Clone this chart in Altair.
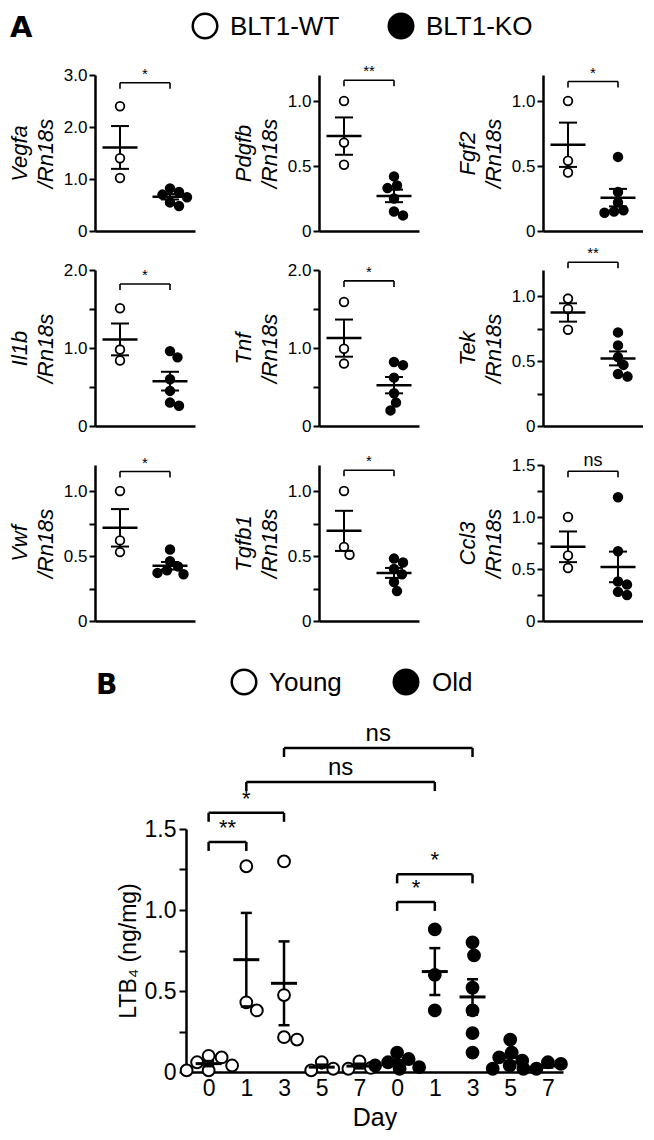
import math
import altair as alt
import pandas as pd

FONT = "Liberation Sans"

# ---------------- Panel A data ----------------
genes = ["Vegfa", "Pdgfb", "Fgf2", "Il1b", "Tnf", "Tek", "Vwf", "Tgfb1", "Ccl3"]
groups_a = ["BLT1-WT", "BLT1-KO"]
wt_values = [
    [2.40, 1.40, 1.02],
    [1.00, 0.68, 0.51],
    [1.00, 0.54, 0.45],
    [1.51, 0.98, 0.84],
    [1.59, 0.99, 0.80],
    [0.98, 0.90, 0.74],
    [1.00, 0.62, 0.53],
    [1.00, 0.57, 0.51],
    [1.00, 0.63, 0.51],
]
ko_values = [
    [0.82, 0.75, 0.70, 0.65, 0.55, 0.48],
    [0.42, 0.35, 0.33, 0.25, 0.15, 0.12],
    [0.57, 0.30, 0.22, 0.15, 0.14, 0.16],
    [0.96, 0.88, 0.60, 0.45, 0.30, 0.26],
    [0.82, 0.78, 0.62, 0.42, 0.30, 0.20],
    [0.72, 0.62, 0.53, 0.47, 0.40, 0.38],
    [0.55, 0.46, 0.42, 0.39, 0.37, 0.36],
    [0.48, 0.45, 0.40, 0.36, 0.30, 0.23],
    [1.19, 0.67, 0.38, 0.35, 0.28, 0.25],
]
y_max_a = [3.0, 1.2, 1.2, 2.0, 2.0, 1.2, 1.2, 1.2, 1.5]
tick_step_a = [1.0, 0.5, 0.5, 0.5, 0.5, 0.25, 0.25, 0.25, 0.25]
label_step_a = [1.0, 0.5, 0.5, 1.0, 1.0, 0.5, 0.5, 0.5, 0.5]
sig_a = ["*", "**", "*", "*", "*", "**", "*", "*", "ns"]
bracket_level_a = [2.85, 1.16, 1.15, 1.82, 1.86, 1.26, 1.15, 1.16, 1.44]

# ---------------- Panel B data ----------------
days = ["0", "1", "3", "5", "7"]
groups_b = ["Young", "Old"]
young_values = [
    [0.04, 0.09, 0.10, 0.06, 0.01, 0.01],
    [1.27, 0.38, 0.43],
    [1.30, 0.475, 0.20, 0.215],
    [0.06, 0.01, 0.02],
    [0.065, 0.02, 0.025],
]
old_values = [
    [0.12, 0.08, 0.06, 0.04, 0.03, 0.02],
    [0.88, 0.60, 0.38],
    [0.80, 0.72, 0.52, 0.38, 0.24, 0.12],
    [0.20, 0.12, 0.09, 0.07, 0.04, 0.02],
    [0.06, 0.05, 0.02, 0.02],
]
bracket_b_from = [0, 0, 1, 2, 5, 5]
bracket_b_to = [1, 2, 6, 7, 6, 7]
bracket_b_level = [1.42, 1.60, 1.79, 2.00, 1.05, 1.22]
bracket_b_label = ["**", "*", "ns", "ns", "*", "*"]

# ---------------- layout constants ----------------
W_A, H_A, GAP_X, GAP_Y = 100, 156, 124, 39
W_B, H_B = 377, 243
B_SHIFT = 91
GAP_AB = 35


def swarm_offsets(vals, ppu_y, diam):
    order = sorted(range(len(vals)), key=lambda i: -vals[i])
    placed = []
    offs = [0.0] * len(vals)
    for i in order:
        yp = vals[i] * ppu_y
        k = 0
        found = None
        while found is None:
            cands = [0.0] if k == 0 else [k * 0.5, -k * 0.5]
            for c in cands:
                if all((c - px) ** 2 + (yp - py) ** 2 >= diam ** 2 for px, py in placed):
                    found = c
                    break
            k += 1
        offs[i] = found
        placed.append((found, yp))
    return offs


def mean_sem(vals):
    n = len(vals)
    m = sum(vals) / n
    sd = math.sqrt(sum((v - m) ** 2 for v in vals) / (n - 1))
    return m, sd / math.sqrt(n)


def legend_entry(label, fill, cx, cy, tx):
    d = pd.DataFrame({"g": [label]})
    sym = alt.Chart(d).mark_point(filled=True, shape="circle", size=600, fill=fill,
                                  stroke="black", strokeWidth=2.5, opacity=1).encode(
        x=alt.value(cx), y=alt.value(cy))
    txt = alt.Chart(d).mark_text(font=FONT, fontSize=26, align="left", baseline="middle",
                                 color="black").encode(
        text="g:N", x=alt.value(tx), y=alt.value(cy + 1))
    return [sym, txt]


def panel_a(i):
    ymax = y_max_a[i]
    ppu = H_A / ymax
    ppx = W_A / 4.0
    pts, stats, caps = [], [], []
    for grp, vals, xc in ((groups_a[0], wt_values[i], 1.0), (groups_a[1], ko_values[i], 3.0)):
        offs = swarm_offsets(vals, ppu, 9.5)
        for v, o in zip(vals, offs):
            pts.append({"x": xc + o / ppx, "y": v, "group": grp})
        m, s = mean_sem(vals)
        stats.append({"x": xc, "mean": m, "lo": m - s, "hi": m + s})
        caps += [{"x": xc, "y": m - s}, {"x": xc, "y": m + s}]
    pts = pd.DataFrame(pts)
    stats = pd.DataFrame(stats)
    caps = pd.DataFrame(caps)
    lvl = bracket_level_a[i]
    br = pd.DataFrame([{"x1": 1.0, "x2": 3.0, "xm": 2.0, "level": lvl,
                        "low": lvl - 6.0 / ppu, "label": sig_a[i],
                        "fs": 18 if sig_a[i] == "ns" else 15}])

    step = tick_step_a[i]
    ls = label_step_a[i]
    nt = int(math.floor(ymax / step + 1e-9))
    tvals = [round(k * step, 4) for k in range(nt + 1)]
    lexpr = ("datum.value == 0 ? '0' : (abs(datum.value / %s - round(datum.value / %s)) < 0.001 ? "
             "format(datum.value, '.1f') : '')" % (ls, ls))
    yaxis = alt.Axis(values=tvals, labelExpr=lexpr, title=[genes[i], "/Rn18s"],
                     titleFont=FONT, titleFontSize=22, titleFontStyle="italic",
                     titleFontWeight="normal", titleColor="black", titleLineHeight=26,
                     titlePadding=6, labelFont=FONT, labelFontSize=17, labelColor="black",
                     labelPadding=2, tickSize=6, tickWidth=2, tickColor="black",
                     domainWidth=2.5, domainColor="black", grid=False)
    xaxis = alt.Axis(labels=False, ticks=False, title=None, grid=False,
                     domainWidth=2.5, domainColor="black")
    ysc = alt.Scale(domain=[0, ymax], nice=False, zero=True)
    xsc = alt.Scale(domain=[0, 4], nice=False, zero=False)

    def X(f):
        return alt.X(f + ":Q", scale=xsc, axis=xaxis)

    def Y(f):
        return alt.Y(f + ":Q", scale=ysc, axis=yaxis)

    sem_rule = alt.Chart(stats).mark_rule(color="black", strokeWidth=2).encode(
        x=X("x"), y=Y("lo"), y2="hi:Q")
    points = alt.Chart(pts).mark_point(filled=True, shape="circle", size=75, stroke="black",
                                       strokeWidth=1.8, opacity=1).encode(
        x=X("x"), y=Y("y"),
        fill=alt.Fill("group:N", scale=alt.Scale(domain=groups_a, range=["white", "black"]),
                      legend=None))
    mean_tick = alt.Chart(stats).mark_tick(orient="horizontal", size=35, thickness=2.5,
                                           color="black", opacity=1).encode(x=X("x"), y=Y("mean"))
    cap_tick = alt.Chart(caps).mark_tick(orient="horizontal", size=18, thickness=2,
                                         color="black", opacity=1).encode(x=X("x"), y=Y("y"))
    bh = alt.Chart(br).mark_rule(color="black", strokeWidth=1.6).encode(
        x=X("x1"), x2="x2:Q", y=Y("level"))
    bl = alt.Chart(br).mark_rule(color="black", strokeWidth=1.6).encode(
        x=X("x1"), y=Y("low"), y2="level:Q")
    brr = alt.Chart(br).mark_rule(color="black", strokeWidth=1.6).encode(
        x=X("x2"), y=Y("low"), y2="level:Q")
    bt = alt.Chart(br).mark_text(font=FONT, baseline="bottom", dy=-1, color="black").encode(
        x=X("xm"), y=Y("level"), text="label:N", size=alt.Size("fs:Q", scale=None, legend=None))
    layers = [sem_rule, points, mean_tick, cap_tick, bh, bl, brr, bt]
    if i == 0:
        lab = alt.Chart(pd.DataFrame({"t": ["A"]})).mark_text(
            font="DejaVu Sans", fontSize=29, fontWeight="bold", align="left",
            baseline="alphabetic", color="black").encode(
            text="t:N", x=alt.value(-85), y=alt.value(-38))
        layers.append(lab)
        layers += legend_entry(groups_a[0], "white", 110, -49, 135)
        layers += legend_entry(groups_a[1], "black", 306, -49, 331)
    return alt.layer(*layers).properties(width=W_A, height=H_A)


def panel_b():
    ppu = H_B / 1.5
    ppx = W_B / 10.0
    pts, stats, caps = [], [], []
    for gi, (grp, series) in enumerate(((groups_b[0], young_values), (groups_b[1], old_values))):
        for di, vals in enumerate(series):
            xc = gi * 5 + di
            offs = swarm_offsets(vals, ppu, 13.0)
            for v, o in zip(vals, offs):
                pts.append({"x": xc + o / ppx, "y": v, "group": grp})
            m, s = mean_sem(vals)
            stats.append({"x": xc, "mean": m, "lo": max(m - s, 0), "hi": m + s})
            caps += [{"x": xc, "y": m - s}, {"x": xc, "y": m + s}]
    pts = pd.DataFrame(pts)
    stats = pd.DataFrame(stats)
    caps = pd.DataFrame(caps)
    caps = caps[caps["y"] > 0.02]
    br = pd.DataFrame({
        "x1": bracket_b_from, "x2": bracket_b_to,
        "xm": [(a + b) / 2 for a, b in zip(bracket_b_from, bracket_b_to)],
        "level": bracket_b_level,
        "low": [l - 9.0 / ppu for l in bracket_b_level],
        "label": bracket_b_label,
        "fs": [24 if t == "ns" else 22 for t in bracket_b_label],
    })
    ysc = alt.Scale(domain=[0, 1.5], nice=False, zero=True)
    xsc = alt.Scale(domain=[-0.6, 9.4], nice=False, zero=False)
    lexpr = ("datum.value == 0 ? '0' : (abs(datum.value / 0.5 - round(datum.value / 0.5)) < 0.001 ? "
             "format(datum.value, '.1f') : '')")
    yaxis = alt.Axis(values=[0, 0.25, 0.5, 0.75, 1.0, 1.25, 1.5], labelExpr=lexpr,
                     title="LTB\u2084 (ng/mg)", titleFont=FONT, titleFontSize=23,
                     titleFontWeight="normal", titleColor="black", titlePadding=4,
                     labelFont=FONT, labelFontSize=23, labelColor="black", labelPadding=3,
                     tickSize=7, tickWidth=2, tickColor="black",
                     domainWidth=2.5, domainColor="black", grid=False)
    xaxis = alt.Axis(values=list(range(10)),
                     labelExpr="['0','1','3','5','7'][datum.value % 5]",
                     ticks=False, grid=False, domainWidth=2.5, domainColor="black",
                     labelFont=FONT, labelFontSize=23, labelColor="black", labelPadding=5,
                     title="Day", titleFont=FONT, titleFontSize=25, titleFontWeight="normal",
                     titleColor="black", titlePadding=5)

    def X(f):
        return alt.X(f + ":Q", scale=xsc, axis=xaxis)

    def Y(f):
        return alt.Y(f + ":Q", scale=ysc, axis=yaxis)

    sem_rule = alt.Chart(stats).mark_rule(color="black", strokeWidth=2.5).encode(
        x=X("x"), y=Y("lo"), y2="hi:Q")
    points = alt.Chart(pts).mark_point(filled=True, shape="circle", size=140, stroke="black",
                                       strokeWidth=2, opacity=1).encode(
        x=X("x"), y=Y("y"),
        fill=alt.Fill("group:N", scale=alt.Scale(domain=groups_b, range=["white", "black"]),
                      legend=None))
    mean_tick = alt.Chart(stats).mark_tick(orient="horizontal", size=26, thickness=3,
                                           color="black", opacity=1).encode(x=X("x"), y=Y("mean"))
    cap_tick = alt.Chart(caps).mark_tick(orient="horizontal", size=11, thickness=2.5,
                                         color="black", opacity=1).encode(x=X("x"), y=Y("y"))
    bh = alt.Chart(br).mark_rule(color="black", strokeWidth=2.5).encode(
        x=X("x1"), x2="x2:Q", y=Y("level"))
    bl = alt.Chart(br).mark_rule(color="black", strokeWidth=2.5).encode(
        x=X("x1"), y=Y("low"), y2="level:Q")
    brr = alt.Chart(br).mark_rule(color="black", strokeWidth=2.5).encode(
        x=X("x2"), y=Y("low"), y2="level:Q")
    bt = alt.Chart(br).mark_text(font=FONT, baseline="bottom", dy=-2, color="black").encode(
        x=X("xm"), y=Y("level"), text="label:N", size=alt.Size("fs:Q", scale=None, legend=None))
    lab = alt.Chart(pd.DataFrame({"t": ["B"]})).mark_text(
        font="DejaVu Sans", fontSize=28, fontWeight="bold", align="left",
        baseline="alphabetic", color="black").encode(
        text="t:N", x=alt.value(-90), y=alt.value(-135))
    layers = [sem_rule, points, mean_tick, cap_tick, bh, bl, brr, bt, lab]
    layers += legend_entry(groups_b[0], "white", 58, -147, 83)
    layers += legend_entry(groups_b[1], "black", 220, -147, 246)
    return alt.layer(*layers).properties(width=W_B, height=H_B)


grid_a = alt.concat(*[panel_a(i) for i in range(9)], columns=3,
                    spacing={"row": GAP_Y, "column": GAP_X}, bounds="flush")

spacer = alt.Chart(pd.DataFrame({"v": [0]})).mark_point(opacity=0).encode(
    x=alt.X("v:Q", axis=None), y=alt.Y("v:Q", axis=None)).properties(width=B_SHIFT, height=H_B)
row_b = alt.hconcat(spacer, panel_b(), spacing=0, bounds="flush")

chart = alt.vconcat(grid_a, row_b, spacing=GAP_AB, bounds="full", padding=0).configure_view(
    stroke=None)

chart.save("out.html", embed_options={"renderer": "svg", "actions": False})
